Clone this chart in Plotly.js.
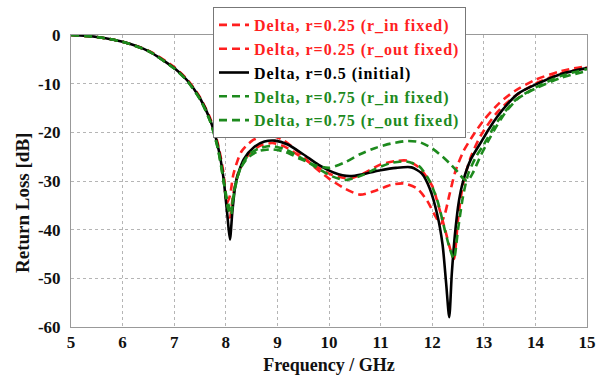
<!DOCTYPE html>
<html>
<head>
<meta charset="utf-8">
<script src="https://cdn.plot.ly/plotly-3.0.1.min.js"></script>
<style>html,body{margin:0;padding:0;background:#fff;}#chart{width:603px;height:375px;}</style>
</head>
<body>
<div id="chart"></div>
<script>
// Frequency (GHz) and return loss (dB) for each design variant
const freqR25in = [5,5.5,6,6.5,7,7.25,7.5,7.7,7.85,7.95,8.02,8.08,8.15,8.3,8.5,8.7,8.86,9.1,9.4,9.7,10.0,10.3,10.6,10.9,11.2,11.45,11.7,11.9,12.05,12.16,12.24,12.33,12.45,12.6,12.8,13.0,13.3,13.6,14.0,14.5,15];
const rlR25in   = [0,-0.4,-1.4,-3.2,-6.6,-9.1,-12.8,-17.2,-22.5,-28,-34.5,-33,-28.5,-24,-21.8,-20.8,-20.6,-21.5,-24,-27,-29.5,-31.5,-32.8,-32,-30.8,-30.5,-31.5,-34,-37,-38.8,-37,-33,-28,-24,-20.5,-17.5,-14,-11.5,-9.2,-7.4,-6.4];

const freqR25out = [5,5.5,6,6.5,7,7.25,7.5,7.7,7.85,7.95,8.03,8.08,8.14,8.25,8.45,8.65,8.9,9.15,9.45,9.75,10.05,10.4,10.7,11.0,11.3,11.5,11.75,12.0,12.12,12.25,12.35,12.42,12.5,12.6,12.75,12.95,13.25,13.6,14.0,14.5,15];
const rlR25out   = [0,-0.4,-1.4,-3.3,-6.8,-9.3,-13,-17.5,-23,-29,-35.5,-37.5,-33,-28,-24.5,-22.8,-22.2,-23,-25,-27,-28.7,-29.5,-28.3,-26.6,-25.9,-25.8,-27.3,-31,-35,-40,-44,-46,-38,-30.5,-25,-20.5,-16,-12.6,-10,-7.9,-6.7];

const freqR50 = [5,5.5,6,6.5,7,7.25,7.5,7.7,7.85,7.95,8.03,8.08,8.13,8.2,8.35,8.55,8.75,8.95,9.2,9.5,9.8,10.1,10.4,10.7,11.0,11.3,11.6,11.8,11.95,12.1,12.2,12.27,12.33,12.38,12.45,12.52,12.6,12.75,12.93,13.1,13.26,13.45,13.67,14.0,14.5,15];
const rlR50   = [0,-0.4,-1.4,-3.3,-6.8,-9.3,-13,-17.5,-23,-29,-37,-42,-36,-30,-25.5,-23,-21.9,-21.7,-22.5,-24.5,-26.7,-28.3,-29,-28.5,-27.8,-27.3,-27.2,-28.5,-31.5,-37,-43,-51,-58,-49,-40,-34,-30,-25.5,-22.3,-19.3,-16.8,-14.3,-12,-10.2,-8,-6.8];

const freqR75in = [5,5.5,6,6.5,7,7.25,7.5,7.7,7.85,7.95,8.04,8.1,8.16,8.28,8.45,8.65,8.88,9.15,9.45,9.75,10.05,10.3,10.6,10.9,11.2,11.5,11.75,11.95,12.1,12.22,12.33,12.42,12.5,12.6,12.7,12.85,13.0,13.25,13.6,14.0,14.5,15];
const rlR75in   = [0,-0.4,-1.4,-3.3,-6.9,-9.4,-13.2,-17.8,-23.5,-29.5,-35.5,-37,-32.5,-27.5,-24.5,-23.3,-22.8,-23.5,-25.2,-27.2,-29,-29.8,-29,-27.5,-26.3,-26,-27,-30,-34,-39,-43.5,-46,-40,-33,-28.5,-25,-22.5,-18,-13.5,-10.8,-8.4,-7];

const freqR75out = [5,5.5,6,6.5,7,7.25,7.5,7.7,7.85,7.95,8.04,8.1,8.16,8.28,8.45,8.65,8.9,9.15,9.45,9.75,10.0,10.3,10.6,10.9,11.2,11.5,11.75,12.0,12.2,12.35,12.5,12.6,12.68,12.78,12.93,13.1,13.26,13.45,13.67,14.0,14.5,15];
const rlR75out   = [0,-0.4,-1.4,-3.3,-6.9,-9.4,-13.2,-17.8,-23.5,-29.5,-34.5,-36,-32,-27.5,-25,-23.8,-23.5,-24,-25.5,-26.8,-27.3,-26.2,-24.5,-23.2,-22.3,-21.8,-22,-23.3,-25,-26.5,-28.2,-29.5,-30,-28.5,-25,-21.5,-18.5,-15.5,-13,-11,-8.8,-7.4];

const seriesNames = [
  'Delta, r=0.25 (r_in fixed)',
  'Delta, r=0.25 (r_out fixed)',
  'Delta, r=0.5 (initial)',
  'Delta, r=0.75 (r_in fixed)',
  'Delta, r=0.75 (r_out fixed)'
];
const xTicks = [5,6,7,8,9,10,11,12,13,14,15];
const yTicks = [0,-10,-20,-30,-40,-50,-60];
const xTitle = 'Frequency / GHz';
const yTitle = 'Return Loss [dB]';

const RED = '#ff1f1f', GREEN = '#1d8a1d', BLACK = '#000000';
const DASH = '8px,5px';
const xs = [freqR25in, freqR25out, freqR50, freqR75in, freqR75out];
const ys = [rlR25in, rlR25out, rlR50, rlR75in, rlR75out];
const colors = [RED, RED, BLACK, GREEN, GREEN];
const dashes = [DASH, DASH, 'solid', DASH, DASH];

const traces = xs.map((x, i) => ({
  x: x, y: ys[i], type: 'scatter', mode: 'lines',
  name: '<span style="color:' + colors[i] + ';letter-spacing:1px">' + seriesNames[i] + '</span>',
  line: {color: colors[i], width: 2.6, dash: dashes[i], shape: 'spline', smoothing: 0.7}
}));

const FONT = 'Liberation Serif, Times New Roman, serif';
const layout = {
  width: 603, height: 375,
  margin: {l: 71, r: 16, t: 35, b: 48, autoexpand: false},
  paper_bgcolor: '#fff', plot_bgcolor: '#fff',
  font: {family: FONT, color: '#111', size: 17, weight: 'bold'},
  showlegend: true,
  legend: {
    x: (213 - 71) / 516, y: 1 + (35 - 7) / 292, xanchor: 'left', yanchor: 'top',
    bgcolor: '#fff', bordercolor: '#777', borderwidth: 1,
    font: {family: FONT, size: 16, weight: 'bold'},
    itemwidth: 30, tracegroupgap: 0
  },
  xaxis: {
    range: [5, 15], tickvals: xTicks, ticktext: xTicks.map(String),
    showgrid: true, gridcolor: '#b5b5b5', griddash: 'dot', gridwidth: 1,
    showline: true, linecolor: '#999', linewidth: 1, mirror: true,
    zeroline: false, ticks: '', ticklabelstandoff: 0,
    tickfont: {family: FONT, size: 17, weight: 'bold', color: '#111'},
    title: {text: xTitle, font: {family: FONT, size: 18, weight: 'bold', color: '#111'}, standoff: 6},
    automargin: false
  },
  yaxis: {
    range: [-60, 0], tickvals: yTicks, ticktext: yTicks.map(String),
    showgrid: true, gridcolor: '#b5b5b5', griddash: 'dot', gridwidth: 1,
    showline: true, linecolor: '#999', linewidth: 1, mirror: true,
    zeroline: false, ticks: '', ticklabelstandoff: 6,
    tickfont: {family: FONT, size: 17, weight: 'bold', color: '#111'},
    automargin: false
  },
  annotations: [{
    text: yTitle, xref: 'paper', yref: 'paper',
    x: (22 - 71) / 516, y: (327 - 203) / 292, xanchor: 'center', yanchor: 'middle',
    textangle: -90, showarrow: false,
    font: {family: FONT, size: 19, weight: 'bold', color: '#111'}
  }]
};

Plotly.newPlot('chart', traces, layout, {staticPlot: true, displayModeBar: false});
</script>
</body>
</html>
